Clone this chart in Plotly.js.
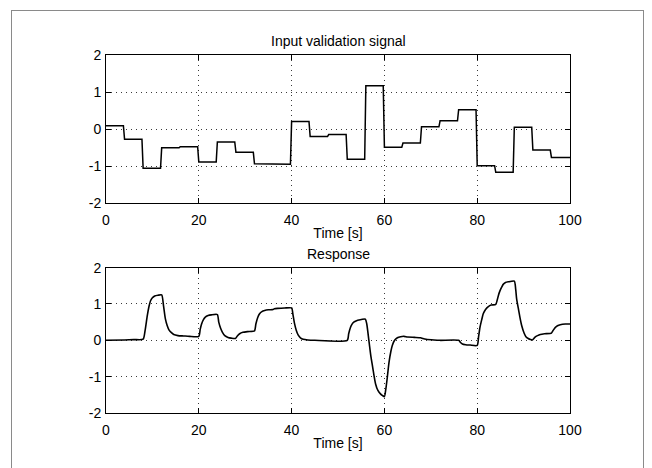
<!DOCTYPE html>
<html>
<head>
<meta charset="utf-8">
<script src="https://cdn.plot.ly/plotly-3.0.1.min.js"></script>
<style>
  html, body { margin: 0; padding: 0; background: #ffffff; }
  #frame { position: absolute; left: 11px; top: 10px; width: 633px; height: 470px; border: 1px solid #8a8a8a; box-sizing: border-box; }
  #chart { position: absolute; left: 0; top: 0; width: 652px; height: 468px; }
</style>
</head>
<body>
<div id="frame"></div>
<div id="chart"></div>
<script>
// ---- Data ----
const stepTimes = [0, 4, 8, 12, 16, 20, 24, 28, 32, 36, 40, 44, 48, 52, 56, 60, 64, 68, 72, 76, 80, 84, 88, 92, 96];
const stepLevels = [0.09, -0.28, -1.06, -0.51, -0.48, -0.89, -0.35, -0.63, -0.94, -0.95,
                    0.20, -0.20, -0.15, -0.82, 1.17, -0.49, -0.38, 0.06, 0.22, 0.52,
                    -0.99, -1.17, 0.05, -0.57, -0.77];
const endTime = 100;

const respTime = [0, 4, 6, 8.0, 8.4, 8.9, 9.3, 9.6, 10.0, 10.5, 11.2, 12.0, 12.4, 12.8, 13.2, 13.6, 14.1, 14.6, 15.5, 16.7, 18, 20.0,
  20.3, 20.6, 21.0, 21.4, 22.0, 22.7, 24.0, 24.3, 24.7, 25.1, 25.6, 26.3, 27.0, 27.9, 28.3, 28.8, 29.5, 30.5, 32.0,
  32.3, 32.7, 33.1, 33.6, 34.2, 35.0, 36.0, 36.3, 37.0, 38.5, 40.0, 40.3, 40.6, 41.0, 41.4, 41.9, 42.5, 43.5, 45, 52.0,
  52.3, 52.7, 53.0, 53.4, 54.0, 54.5, 55.9, 56.2, 56.7, 57.1, 57.4, 57.8, 58.1, 58.6, 59.2, 59.6, 60.0,
  60.3, 60.6, 61.0, 61.4, 61.7, 62.2, 62.8, 63.5, 64.2, 65.0, 66.5, 67.8, 68.3, 69.0, 70.7, 72, 76.0,
  76.4, 76.8, 77.5, 78.5, 80.0, 80.3, 80.6, 81.0, 81.3, 81.8, 82.4, 83.0, 84.0, 84.3, 84.6, 84.9, 85.3, 85.6, 86.1, 86.7, 88.0,
  88.3, 88.5, 88.9, 89.2, 89.6, 90.1, 90.5, 91.0, 91.5, 91.9, 92.2, 92.6, 93.0, 93.6, 94.5, 96.0,
  96.4, 96.8, 97.3, 97.9, 99.0, 100];
const respValue = [0.0, 0.01, 0.02, 0.03, 0.25, 0.68, 0.95, 1.09, 1.17, 1.22, 1.24, 1.25, 0.95, 0.59, 0.40, 0.28, 0.21, 0.16, 0.13, 0.12, 0.11, 0.11,
  0.30, 0.45, 0.57, 0.64, 0.68, 0.70, 0.71, 0.50, 0.33, 0.22, 0.13, 0.08, 0.06, 0.05, 0.12, 0.18, 0.22, 0.24, 0.26,
  0.45, 0.63, 0.73, 0.79, 0.82, 0.84, 0.85, 0.87, 0.88, 0.89, 0.89, 0.70, 0.48, 0.28, 0.15, 0.07, 0.03, 0.01, 0.0, 0.0,
  0.18, 0.36, 0.44, 0.50, 0.54, 0.56, 0.58, 0.45, -0.05, -0.45, -0.68, -1.00, -1.20, -1.38, -1.48, -1.52, -1.55,
  -1.35, -1.05, -0.60, -0.30, -0.14, 0.0, 0.07, 0.10, 0.11, 0.09, 0.08, 0.07, 0.05, 0.03, 0.01, 0.0, 0.0,
  -0.06, -0.10, -0.12, -0.13, -0.14, 0.10, 0.36, 0.58, 0.73, 0.85, 0.93, 0.97, 0.99, 1.10, 1.25, 1.36, 1.47, 1.54, 1.59, 1.61, 1.63,
  1.40, 1.14, 0.85, 0.64, 0.40, 0.20, 0.10, 0.05, 0.02, 0.01, 0.05, 0.10, 0.13, 0.16, 0.18, 0.20,
  0.28, 0.35, 0.40, 0.43, 0.45, 0.45];

const xTickVals = [0, 20, 40, 60, 80, 100];
const yTickVals = [-2, -1, 0, 1, 2];
const yTickLabels = ['-2', '-1', '0', '1', '2'];
const titleTop = 'Input validation signal';
const titleBottom = 'Response';
const xLabel = 'Time [s]';

// ---- Build step signal with short ramps between samples ----
const ramp = 0.25;
const inX = [], inY = [];
for (let k = 0; k < stepTimes.length; k++) {
  const end = k + 1 < stepTimes.length ? stepTimes[k + 1] - ramp : endTime;
  inX.push(stepTimes[k]); inY.push(stepLevels[k]);
  inX.push(end); inY.push(stepLevels[k]);
}

const font = { family: '"Liberation Sans", Arial, Helvetica, sans-serif', size: 14, color: '#000' };

function xAxis(anchor) {
  return {
    anchor: anchor, range: [0, 100], tickvals: xTickVals, ticks: 'inside', ticklen: 5, tickcolor: '#000',
    showline: true, linecolor: '#000', linewidth: 1, mirror: 'ticks',
    showgrid: true, gridcolor: '#3a3a3a', griddash: '1px,4px', gridwidth: 1, zeroline: false,
    ticklabelstandoff: 4,
    title: { text: xLabel, font: font, standoff: 1 }, tickfont: font, fixedrange: true
  };
}
function yAxis(anchor, domain) {
  return {
    anchor: anchor, domain: domain, range: [-2, 2], tickvals: yTickVals, ticktext: yTickLabels,
    ticks: 'inside', ticklen: 5, tickcolor: '#000',
    showline: true, linecolor: '#000', linewidth: 1, mirror: 'ticks',
    showgrid: true, gridcolor: '#3a3a3a', griddash: '1px,4px', gridwidth: 1, zeroline: false,
    ticklabelstandoff: 1,
    tickfont: font, fixedrange: true
  };
}

const traces = [
  { x: inX, y: inY, xaxis: 'x', yaxis: 'y', mode: 'lines', line: { color: '#000', width: 1.5 }, hoverinfo: 'skip' },
  { x: respTime, y: respValue, xaxis: 'x2', yaxis: 'y2', mode: 'lines', line: { color: '#000', width: 1.6, shape: 'spline', smoothing: 0.6 }, hoverinfo: 'skip' }
];

const layout = {
  width: 652, height: 468,
  margin: { l: 106, r: 82, t: 55, b: 55 },
  paper_bgcolor: 'rgba(0,0,0,0)', plot_bgcolor: '#ffffff',
  showlegend: false, font: font,
  xaxis: xAxis('y'),
  yaxis: yAxis('x', [0.5866, 1.0]),
  xaxis2: xAxis('y2'),
  yaxis2: yAxis('x2', [0, 0.406]),
  annotations: [
    { text: titleTop, xref: 'paper', yref: 'paper', x: 0.5, y: 1.0, xanchor: 'center', yanchor: 'bottom', yshift: 4, showarrow: false, font: font },
    { text: titleBottom, xref: 'paper', yref: 'paper', x: 0.5, y: 0.406, xanchor: 'center', yanchor: 'bottom', yshift: 4, showarrow: false, font: font }
  ]
};

Plotly.newPlot('chart', traces, layout, { staticPlot: true, displayModeBar: false });
</script>
</body>
</html>
